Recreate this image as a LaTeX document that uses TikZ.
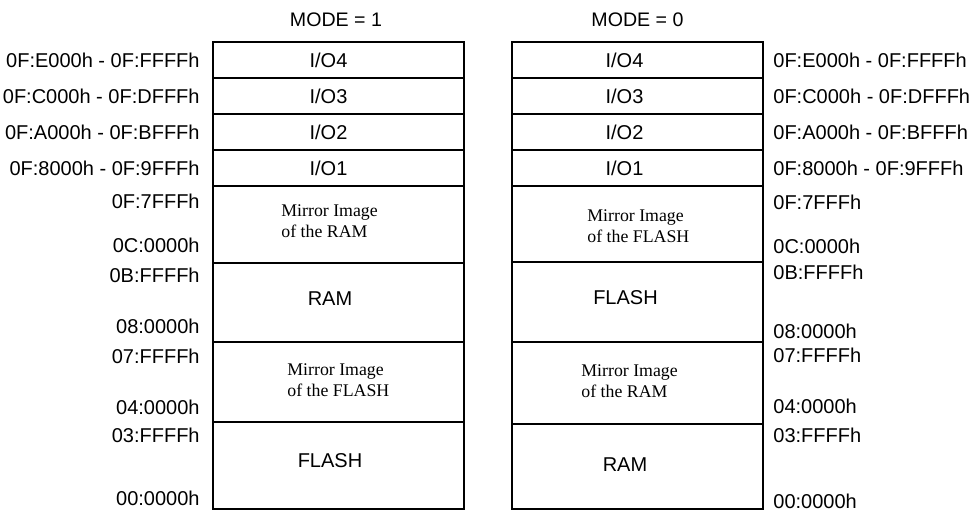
\documentclass[tikz,border=0pt]{standalone}
\usepackage{fontspec}
\setmainfont{Liberation Sans}
\newfontfamily\timesfont{Liberation Serif}
\usepackage{tikz}
\usetikzlibrary{positioning}
\tikzstyle{cell} = [rectangle, draw=black, line width=0.9pt, outer sep=0pt, inner sep=0pt, minimum width=125.5pt]
\tikzstyle{celltext} = [font=\fontsize{10}{12}\selectfont, inner sep=0pt]
\tikzstyle{mirrortext} = [font=\fontsize{8.9}{10.5}\timesfont, align=left, anchor=west, inner sep=0pt]
\tikzstyle{addr} = [font=\fontsize{10}{12}\selectfont, inner sep=0pt]
\tikzstyle{title} = [font=\fontsize{9.8}{12}\selectfont, inner sep=0pt]

\begin{document}
\begin{tikzpicture}

		\useasboundingbox (0,0) rectangle (485.5pt,-255pt);

		% MODE = 1 column
		\node (m1_io4) [cell, minimum height=18pt, anchor=north west] at (106.5pt,-21pt) {};
		\node (m1_io3) [cell, minimum height=18pt, below=0pt of m1_io4] {};
		\node (m1_io2) [cell, minimum height=18pt, below=0pt of m1_io3] {};
		\node (m1_io1) [cell, minimum height=18pt, below=0pt of m1_io2] {};
		\node (m1_mirror_ram) [cell, minimum height=38.5pt, below=0pt of m1_io1] {};
		\node (m1_ram) [cell, minimum height=39.5pt, below=0pt of m1_mirror_ram] {};
		\node (m1_mirror_flash) [cell, minimum height=40pt, below=0pt of m1_ram] {};
		\node (m1_flash) [cell, minimum height=43.5pt, below=0pt of m1_mirror_flash] {};

		% MODE = 0 column
		\node (m0_io4) [cell, minimum height=18pt, right=24pt of m1_io4] {};
		\node (m0_io3) [cell, minimum height=18pt, below=0pt of m0_io4] {};
		\node (m0_io2) [cell, minimum height=18pt, below=0pt of m0_io3] {};
		\node (m0_io1) [cell, minimum height=18pt, below=0pt of m0_io2] {};
		\node (m0_mirror_flash) [cell, minimum height=38pt, below=0pt of m0_io1] {};
		\node (m0_flash) [cell, minimum height=40pt, below=0pt of m0_mirror_flash] {};
		\node (m0_mirror_ram) [cell, minimum height=41pt, below=0pt of m0_flash] {};
		\node (m0_ram) [cell, minimum height=42.5pt, below=0pt of m0_mirror_ram] {};

		% Titles
		\node (m1_title) [title, above=7.5pt of m1_io4, xshift=-1.25pt] {MODE = 1};
		\node (m0_title) [title, above=7.5pt of m0_io4] {MODE = 0};

		% Cell contents
		\node (m1_io4_txt) [celltext, xshift=-5pt] at (m1_io4) {I/O4};
		\node (m1_io3_txt) [celltext, xshift=-5pt] at (m1_io3) {I/O3};
		\node (m1_io2_txt) [celltext, xshift=-5pt] at (m1_io2) {I/O2};
		\node (m1_io1_txt) [celltext, xshift=-5pt] at (m1_io1) {I/O1};
		\node (m1_mr_txt) [mirrortext] at ([xshift=-28.75pt, yshift=1.7pt]m1_mirror_ram.center) {Mirror Image\\of the RAM};
		\node (m1_ram_txt) [celltext, xshift=-4.25pt, yshift=1.75pt] at (m1_ram) {RAM};
		\node (m1_mf_txt) [mirrortext] at ([xshift=-25.75pt, yshift=1pt]m1_mirror_flash.center) {Mirror Image\\of the FLASH};
		\node (m1_flash_txt) [celltext, xshift=-4.25pt, yshift=2.25pt] at (m1_flash) {FLASH};

		\node (m0_io4_txt) [celltext, xshift=-6.5pt] at (m0_io4) {I/O4};
		\node (m0_io3_txt) [celltext, xshift=-6.5pt] at (m0_io3) {I/O3};
		\node (m0_io2_txt) [celltext, xshift=-6.5pt] at (m0_io2) {I/O2};
		\node (m0_io1_txt) [celltext, xshift=-6.5pt] at (m0_io1) {I/O1};
		\node (m0_mf_txt) [mirrortext] at ([xshift=-25.25pt, yshift=-1pt]m0_mirror_flash.center) {Mirror Image\\of the FLASH};
		\node (m0_flash_txt) [celltext, xshift=-6pt, yshift=2pt] at (m0_flash) {FLASH};
		\node (m0_mr_txt) [mirrortext] at ([xshift=-28.25pt, yshift=1pt]m0_mirror_ram.center) {Mirror Image\\of the RAM};
		\node (m0_ram_txt) [celltext, xshift=-6.25pt, yshift=0.75pt] at (m0_ram) {RAM};

		% Addresses, MODE = 1
		\node (m1_a_io4) [addr, left=6.5pt of m1_io4] {0F:E000h - 0F:FFFFh};
		\node (m1_a_io3) [addr, left=6.5pt of m1_io3] {0F:C000h - 0F:DFFFh};
		\node (m1_a_io2) [addr, left=6.5pt of m1_io2] {0F:A000h - 0F:BFFFh};
		\node (m1_a_io1) [addr, left=6.5pt of m1_io1] {0F:8000h - 0F:9FFFh};
		\node (m1_a_0f7) [addr, left=6.5pt of m1_mirror_ram.north west, yshift=-7.5pt] {0F:7FFFh};
		\node (m1_a_0c0) [addr, left=6.5pt of m1_mirror_ram.south west, yshift=9pt] {0C:0000h};
		\node (m1_a_0bf) [addr, left=6.5pt of m1_ram.north west, yshift=-6pt] {0B:FFFFh};
		\node (m1_a_080) [addr, left=6.5pt of m1_ram.south west, yshift=8pt] {08:0000h};
		\node (m1_a_07f) [addr, left=6.5pt of m1_mirror_flash.north west, yshift=-7pt] {07:FFFFh};
		\node (m1_a_040) [addr, left=6.5pt of m1_mirror_flash.south west, yshift=7.5pt] {04:0000h};
		\node (m1_a_03f) [addr, left=6.5pt of m1_flash.north west, yshift=-6.5pt] {03:FFFFh};
		\node (m1_a_000) [addr, left=6.5pt of m1_flash.south west, yshift=5.5pt] {00:0000h};

		% Addresses, MODE = 0
		\node (m0_a_io4) [addr, right=5pt of m0_io4] {0F:E000h - 0F:FFFFh};
		\node (m0_a_io3) [addr, right=5pt of m0_io3] {0F:C000h - 0F:DFFFh};
		\node (m0_a_io2) [addr, right=5pt of m0_io2] {0F:A000h - 0F:BFFFh};
		\node (m0_a_io1) [addr, right=5pt of m0_io1] {0F:8000h - 0F:9FFFh};
		\node (m0_a_0f7) [addr, right=5pt of m0_mirror_flash.north east, yshift=-8pt] {0F:7FFFh};
		\node (m0_a_0c0) [addr, right=5pt of m0_mirror_flash.south east, yshift=8pt] {0C:0000h};
		\node (m0_a_0bf) [addr, right=5pt of m0_flash.north east, yshift=-5pt] {0B:FFFFh};
		\node (m0_a_080) [addr, right=5pt of m0_flash.south east, yshift=5.5pt] {08:0000h};
		\node (m0_a_07f) [addr, right=5pt of m0_mirror_ram.north east, yshift=-6.5pt] {07:FFFFh};
		\node (m0_a_040) [addr, right=5pt of m0_mirror_ram.south east, yshift=9pt] {04:0000h};
		\node (m0_a_03f) [addr, right=5pt of m0_ram.north east, yshift=-5.5pt] {03:FFFFh};
		\node (m0_a_000) [addr, right=5pt of m0_ram.south east, yshift=4pt] {00:0000h};
	\end{tikzpicture}
\end{document}
